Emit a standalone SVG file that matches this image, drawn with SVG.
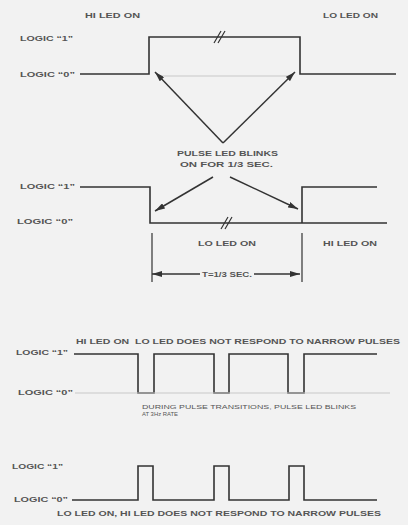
<svg xmlns="http://www.w3.org/2000/svg" width="408" height="525" viewBox="0 0 408 525">
<style>
.w{fill:none;stroke:#333;stroke-width:1.6;stroke-linejoin:miter}
.fa{fill:none;stroke:#c8c8c8;stroke-width:1}
.t{font-family:"Liberation Sans",Arial,sans-serif;font-weight:bold;fill:#555;font-size:8px}
.s{font-size:6px;font-weight:normal;fill:#555}
.a{fill:none;stroke:#333;stroke-width:1.5}
.b{fill:none;stroke:#333;stroke-width:1.2}
</style>
<defs>
<marker id="ah" viewBox="0 0 10 6" refX="10" refY="3" markerWidth="10" markerHeight="6" markerUnits="userSpaceOnUse" orient="auto"><path d="M0,0 L10,3 L0,6 Z" fill="#333"/></marker>
</defs>
<rect width="408" height="525" fill="#f2f2f2"/>

<g id="wave1">
<text class="t" x="85" y="18" textLength="55" lengthAdjust="spacingAndGlyphs">HI LED ON</text>
<text class="t" x="323" y="18" textLength="55" lengthAdjust="spacingAndGlyphs">LO LED ON</text>
<text class="t" x="20" y="41" textLength="53" lengthAdjust="spacingAndGlyphs">LOGIC “1”</text>
<text class="t" x="20" y="77" textLength="55" lengthAdjust="spacingAndGlyphs">LOGIC “0”</text>
<path class="w" d="M80,74 H149 V37 H300 V74 H396"/>
<path class="fa" d="M157,76 H290"/>
<path class="b" d="M214,43 L221,31 M218,43 L225,31"/>
</g>

<g id="note1">
<text class="t" x="177" y="156" textLength="101" lengthAdjust="spacingAndGlyphs">PULSE LED BLINKS</text>
<text class="t" x="180" y="167" textLength="93" lengthAdjust="spacingAndGlyphs">ON FOR 1/3 SEC.</text>
</g>

<g id="wave2">
<text class="t" x="20" y="189" textLength="55" lengthAdjust="spacingAndGlyphs">LOGIC “1”</text>
<text class="t" x="17" y="224" textLength="56" lengthAdjust="spacingAndGlyphs">LOGIC “0”</text>
<path class="w" d="M80,187 H150 V223 H387"/>
<path class="w" d="M302,223 V187 H377"/>
<path class="b" d="M221,229 L228,217 M225,229 L232,217"/>
<text class="t" x="198" y="246" textLength="58" lengthAdjust="spacingAndGlyphs">LO LED ON</text>
<text class="t" x="323" y="246" textLength="54" lengthAdjust="spacingAndGlyphs">HI LED ON</text>
<text class="t" x="202" y="277" textLength="50" lengthAdjust="spacingAndGlyphs">T=1/3 SEC.</text>
</g>

<g id="wave3">
<text class="t" x="76" y="344" textLength="324" lengthAdjust="spacingAndGlyphs" xml:space="preserve">HI LED ON  LO LED DOES NOT RESPOND TO NARROW PULSES</text>
<text class="t" x="16" y="355" textLength="52" lengthAdjust="spacingAndGlyphs">LOGIC “1”</text>
<text class="t" x="18" y="395" textLength="55" lengthAdjust="spacingAndGlyphs">LOGIC “0”</text>
<path class="w" d="M74,354 H138 V393 H154 V354 H214 V393 H229 V354 H288 V393 H304 V354 H377"/>
<path class="fa" d="M75,393 H390"/>
<text class="t s" x="142" y="409" textLength="214" lengthAdjust="spacingAndGlyphs">DURING PULSE TRANSITIONS, PULSE LED BLINKS</text>
<text class="t s" x="142" y="416" textLength="36" lengthAdjust="spacingAndGlyphs">AT 3Hz RATE</text>
</g>

<g id="wave4">
<text class="t" x="12" y="469" textLength="51" lengthAdjust="spacingAndGlyphs">LOGIC “1”</text>
<text class="t" x="14" y="502" textLength="54" lengthAdjust="spacingAndGlyphs">LOGIC “0”</text>
<path class="w" d="M72,500 H138 V466 H153 V500 H214 V466 H229 V500 H289 V466 H304 V500 H377"/>
<text class="t" x="57" y="516" textLength="324" lengthAdjust="spacingAndGlyphs">LO LED ON, HI LED DOES NOT RESPOND TO NARROW PULSES</text>
</g>

<g id="connectors">
<path class="a" d="M223,143 L155,72" marker-end="url(#ah)"/>
<path class="a" d="M223,143 L295,72" marker-end="url(#ah)"/>
<path class="a" d="M213,177 L155,211" marker-end="url(#ah)"/>
<path class="a" d="M230,177 L298,209" marker-end="url(#ah)"/>
<path class="b" d="M152,233 V282 M302,233 V282"/>
<path class="a" d="M200,274 H152" marker-end="url(#ah)"/>
<path class="a" d="M254,274 H300" marker-end="url(#ah)"/>
</g>
</svg>
